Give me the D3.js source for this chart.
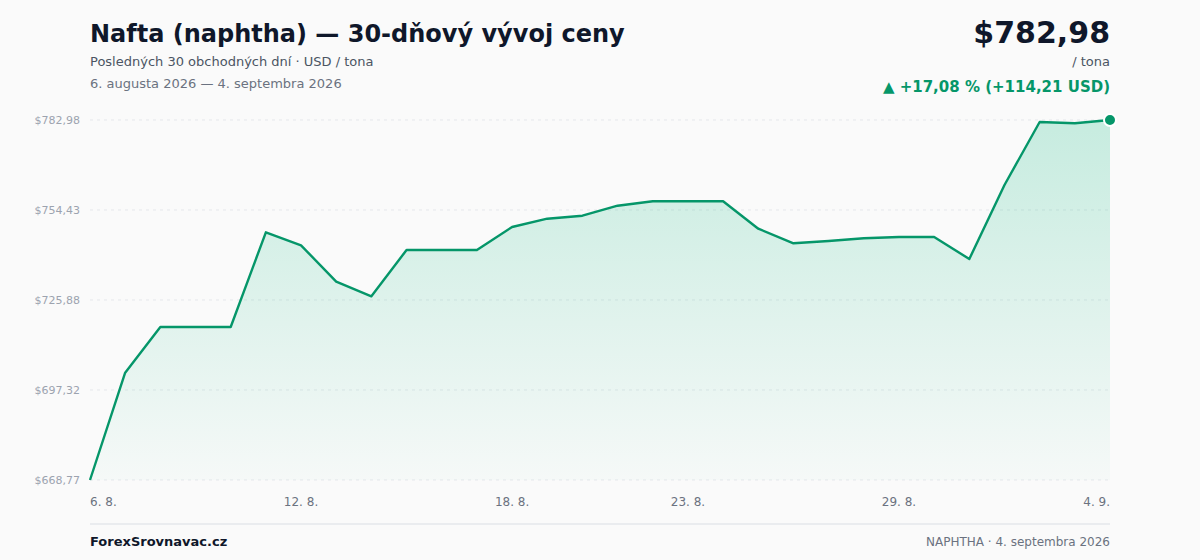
<!DOCTYPE html>
<html>
<head>
<meta charset="utf-8">
<script src="https://cdn.jsdelivr.net/npm/d3@7"></script>
<style>
  html, body { margin: 0; padding: 0; background: #fafafa; }
  svg { display: block; font-family: "DejaVu Sans", sans-serif; }
</style>
</head>
<body>
<svg id="chart" width="1200" height="560"></svg>
<script>
// 30 calendar days, 6. 8. 2026 — 4. 9. 2026
const startDate = new Date(2026, 7, 6);
const prices = [
  668.77, 702.81, 717.31, 717.31, 717.31, 747.35, 743.23, 731.68, 727.05, 741.74,
  741.74, 741.74, 749.03, 751.67, 752.62, 755.79, 757.19, 757.19, 757.19, 748.50,
  743.86, 744.59, 745.45, 745.86, 745.86, 738.88, 762.36, 782.35, 781.93, 782.98
];
const tickIndexes = [0, 6, 12, 17, 23, 29];

const data = prices.map((v, i) => ({ date: d3.timeDay.offset(startDate, i), value: v }));

const plotLeft = 90, plotRight = 1110, plotTop = 120, plotBottom = 480;

const svg = d3.select('#chart');

const fmtNum = (v) => v.toFixed(2).replace('.', ',');
const fmtDay = (d) => d.getDate() + '. ' + (d.getMonth() + 1) + '.';

let x = d3
  .scaleTime()
  .domain(d3.extent(data, (d) => d.date))
  .range([plotLeft, plotRight]);
let yMin = d3.min(prices), yMax = d3.max(prices);
let y = d3.scaleLinear().domain([yMin, yMax]).range([plotBottom, plotTop]);

let yTicks = d3.range(5).map((i) => yMin + ((yMax - yMin) * i) / 4);

// gradient for area
let defs = svg.append('defs');
let grad = defs
  .append('linearGradient')
  .attr('id', 'areaGrad')
  .attr('x1', 0).attr('x2', 0).attr('y1', 0).attr('y2', 1);
grad.append('stop').attr('offset', '0%').attr('stop-color', '#10b981').attr('stop-opacity', 0.22);
grad.append('stop').attr('offset', '100%').attr('stop-color', '#10b981').attr('stop-opacity', 0.02);

// grid + y labels
svg
  .append('g')
  .selectAll('line')
  .data(yTicks)
  .join('line')
  .attr('x1', plotLeft)
  .attr('x2', plotRight)
  .attr('y1', (d) => y(d))
  .attr('y2', (d) => y(d))
  .attr('stroke', '#e5e7eb')
  .attr('stroke-dasharray', '3,4')
  .attr('stroke-width', 1);

svg
  .append('g')
  .selectAll('text')
  .data(yTicks)
  .join('text')
  .attr('x', 80)
  .attr('y', (d) => y(d))
  .attr('dy', '0.35em')
  .attr('text-anchor', 'end')
  .attr('font-size', 11)
  .attr('fill', '#9ca3af')
  .text((d) => '$' + fmtNum(d));

// area + line
svg
  .append('path')
  .datum(data)
  .attr('fill', 'url(#areaGrad)')
  .attr(
    'd',
    d3.area().x((d) => x(d.date)).y0(plotBottom).y1((d) => y(d.value))
  );

svg
  .append('path')
  .datum(data)
  .attr('fill', 'none')
  .attr('stroke', '#059669')
  .attr('stroke-width', 2.4)
  .attr('stroke-linejoin', 'round')
  .attr('d', d3.line().x((d) => x(d.date)).y((d) => y(d.value)));

let last = data[data.length - 1];
svg
  .append('circle')
  .attr('cx', x(last.date))
  .attr('cy', y(last.value))
  .attr('r', 6)
  .attr('fill', '#059669')
  .attr('stroke', '#ffffff')
  .attr('stroke-width', 2);

// x labels
svg
  .append('g')
  .selectAll('text')
  .data(tickIndexes)
  .join('text')
  .attr('x', (i) => x(data[i].date))
  .attr('y', 506)
  .attr('text-anchor', (i, k) => (k === 0 ? 'start' : k === tickIndexes.length - 1 ? 'end' : 'middle'))
  .attr('font-size', 12)
  .attr('fill', '#6b7280')
  .text((i) => fmtDay(data[i].date));

// header
svg.append('text').attr('x', 90).attr('y', 42).attr('font-size', 24).attr('font-weight', 700)
  .attr('fill', '#0f172a').text('Nafta (naphtha) — 30-dňový vývoj ceny');
svg.append('text').attr('x', 90).attr('y', 66).attr('font-size', 13)
  .attr('fill', '#4b5563').text('Posledných 30 obchodných dní · USD / tona');
svg.append('text').attr('x', 90).attr('y', 88).attr('font-size', 13)
  .attr('fill', '#6b7280').text('6. augusta 2026 — 4. septembra 2026');

let change = last.value - prices[0];
let pct = (change / prices[0]) * 100;
svg.append('text').attr('x', 1110).attr('y', 43).attr('text-anchor', 'end').attr('font-size', 30)
  .attr('font-weight', 700).attr('fill', '#0f172a').text('$' + fmtNum(last.value));
svg.append('text').attr('x', 1110).attr('y', 66).attr('text-anchor', 'end').attr('font-size', 13)
  .attr('fill', '#4b5563').text('/ tona');
svg.append('text').attr('x', 1110).attr('y', 92).attr('text-anchor', 'end').attr('font-size', 15)
  .attr('font-weight', 700).attr('fill', '#059669')
  .text('▲ +' + fmtNum(pct) + ' % (+' + fmtNum(change) + ' USD)');

// footer
svg.append('line').attr('x1', 90).attr('x2', 1110).attr('y1', 524).attr('y2', 524)
  .attr('stroke', '#e5e7eb').attr('stroke-width', 1.5);
svg.append('text').attr('x', 90).attr('y', 546).attr('font-size', 13).attr('font-weight', 700)
  .attr('fill', '#0f172a').text('ForexSrovnavac.cz');
svg.append('text').attr('x', 1110).attr('y', 546).attr('text-anchor', 'end').attr('font-size', 12)
  .attr('fill', '#6b7280').text('NAPHTHA · 4. septembra 2026');
</script>
</body>
</html>
